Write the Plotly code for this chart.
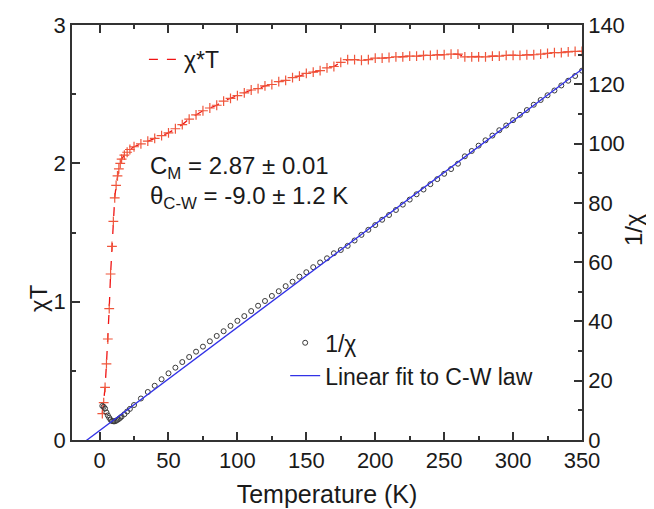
import plotly.graph_objects as go

# ---- data ----
temperature = [2, 3, 4, 5, 6, 7, 8, 9, 10, 11, 12, 13, 14, 15, 16, 18, 20, 22, 25, 30,
               35, 40, 45, 50, 55, 60, 65, 70, 75, 80, 85, 90, 95, 100, 105, 110, 115, 120,
               125, 130, 135, 140, 145, 150, 155, 160, 165, 170, 175, 180, 185, 190, 195,
               200, 205, 210, 215, 220, 225, 230, 235, 240, 245, 250, 255, 260, 265, 270,
               275, 280, 285, 290, 295, 300, 305, 310, 315, 320, 325, 330, 335, 340, 345, 350]

chi_t = [0.19, 0.27, 0.38, 0.55, 0.73, 0.95, 1.20, 1.40, 1.58, 1.75, 1.84, 1.91, 1.96, 2.00,
         2.03, 2.06, 2.08, 2.10, 2.12, 2.14,
         2.16, 2.18, 2.20, 2.22, 2.25, 2.28, 2.32, 2.35, 2.38, 2.40, 2.42, 2.45, 2.47, 2.49,
         2.51, 2.53, 2.54, 2.56, 2.57, 2.59, 2.60, 2.62, 2.63, 2.65, 2.66, 2.67, 2.69, 2.70,
         2.73, 2.75, 2.75, 2.745, 2.75, 2.76, 2.76, 2.765, 2.77, 2.77, 2.775, 2.775, 2.78,
         2.78, 2.785, 2.785, 2.79, 2.79, 2.77, 2.77, 2.77, 2.77, 2.775, 2.775, 2.78, 2.78,
         2.78, 2.785, 2.785, 2.79, 2.795, 2.80, 2.80, 2.805, 2.81, 2.81]

inv_chi = [11.5, 11.2, 10.6, 9.3, 8.3, 7.5, 6.8, 6.4, 6.3, 6.3, 6.5, 6.8, 7.1, 7.5, 7.9, 8.7,
           9.6, 10.5, 11.8, 14.0,
           16.2, 18.3, 20.5, 22.5, 24.4, 26.3, 28.0, 29.8, 31.5, 33.3, 35.1, 36.7, 38.5, 40.2,
           41.8, 43.5, 45.3, 46.9, 48.6, 50.2, 51.9, 53.4, 55.1, 56.6, 58.3, 59.9, 61.3, 63.0,
           64.1, 65.5, 67.3, 69.2, 70.9, 72.5, 74.3, 75.9, 77.6, 79.4, 81.1, 82.9, 84.5, 86.3,
           88.0, 89.8, 91.4, 93.2, 95.7, 97.5, 99.3, 101.1, 102.7, 104.5, 106.1, 107.9, 109.7,
           111.3, 113.1, 114.7, 116.3, 117.9, 119.6, 121.2, 122.8, 124.6]

fit_t = [-20, 350]
fit_inv = [-3.8, 125.1]

x_ticks = [0, 50, 100, 150, 200, 250, 300, 350]
y_ticks = [0, 1, 2, 3]
y2_ticks = [0, 20, 40, 60, 80, 100, 120, 140]

FONT = "Liberation Sans, Arial, sans-serif"
AX = "#333333"
RED = "rgb(240,20,20)"
TXT = "#1a1a1a"

fig = go.Figure()

# red dashed line (legend entry shows the dashed line only)
fig.add_trace(go.Scatter(
    x=temperature, y=chi_t, name="χ*T", mode="lines",
    line=dict(color=RED, width=1.3, dash="dash"),
    yaxis="y", legend="legend"))
fig.add_trace(go.Scatter(
    x=temperature, y=chi_t, name="χ*T", mode="markers", showlegend=False,
    marker=dict(symbol="cross-thin-open", size=7, line=dict(color=RED, width=1.2)),
    yaxis="y"))

fig.add_trace(go.Scatter(
    x=temperature, y=inv_chi, name="1/χ", mode="markers",
    marker=dict(symbol="circle-open", size=5, color="#3a3a3a", line=dict(color="#3a3a3a", width=1)),
    yaxis="y2", legend="legend2"))

fig.add_trace(go.Scatter(
    x=fit_t, y=fit_inv, name="Linear fit to C-W law", mode="lines",
    line=dict(color="rgb(50,50,230)", width=1.3),
    yaxis="y2", legend="legend2"))

axis_common = dict(
    showline=True, linecolor=AX, linewidth=1.5, ticks="inside", tickcolor=AX,
    ticklen=8, tickwidth=1.5, showgrid=False, zeroline=False, automargin=False,
    tickfont=dict(family=FONT, size=22, color=TXT),
)

# the page body adds an 8 px offset, so the figure is 8 px smaller
fig.update_layout(
    width=646, height=501,
    margin=dict(l=64, r=72, t=17, b=69),
    paper_bgcolor="white", plot_bgcolor="white",
    font=dict(family=FONT, size=22, color=TXT),
    xaxis=dict(range=[-20, 350], tickvals=x_ticks, mirror="ticks",
               minor=dict(dtick=25, tick0=0, ticks="inside", ticklen=4, tickcolor=AX, tickwidth=1.5),
               title=dict(text="Temperature (K)", font=dict(family=FONT, size=25, color=TXT), standoff=13),
               **axis_common),
    yaxis=dict(range=[0, 3], tickvals=y_ticks,
               minor=dict(dtick=0.5, ticks="inside", ticklen=4, tickcolor=AX, tickwidth=1.5),
               **axis_common),
    yaxis2=dict(range=[0, 140], tickvals=y2_ticks, overlaying="y", side="right",
                minor=dict(dtick=10, ticks="inside", ticklen=4, tickcolor=AX, tickwidth=1.5),
                **axis_common),
    legend=dict(x=0.141, y=0.969, xanchor="left", yanchor="top", bgcolor="rgba(0,0,0,0)",
                font=dict(family=FONT, size=23, color=TXT)),
    legend2=dict(x=0.418, y=0.286, xanchor="left", yanchor="top", bgcolor="rgba(0,0,0,0)",
                 font=dict(family=FONT, size=23, color=TXT), tracegroupgap=0),
    showlegend=True,
)

# axis titles placed as in the reference
fig.add_annotation(x=-0.067, y=0.342, xref="paper", yref="paper", text="χT", textangle=-90,
                   showarrow=False, xanchor="center", yanchor="middle",
                   font=dict(family=FONT, size=24, color=TXT))
fig.add_annotation(x=1.1, y=0.506, xref="paper", yref="paper", text="1/χ", textangle=-90,
                   showarrow=False, xanchor="center", yanchor="middle",
                   font=dict(family=FONT, size=24, color=TXT))

fig.add_annotation(x=35, y=1.97, xref="x", yref="y", xanchor="left", yanchor="middle",
                   text="C<sub>M</sub> = 2.87 ± 0.01", showarrow=False,
                   font=dict(family=FONT, size=24, color=TXT))
fig.add_annotation(x=35, y=1.755, xref="x", yref="y", xanchor="left", yanchor="middle",
                   text="θ<sub>C-W</sub> = -9.0 ± 1.2 K", showarrow=False,
                   font=dict(family=FONT, size=24, color=TXT))

fig.write_html("out.html")
